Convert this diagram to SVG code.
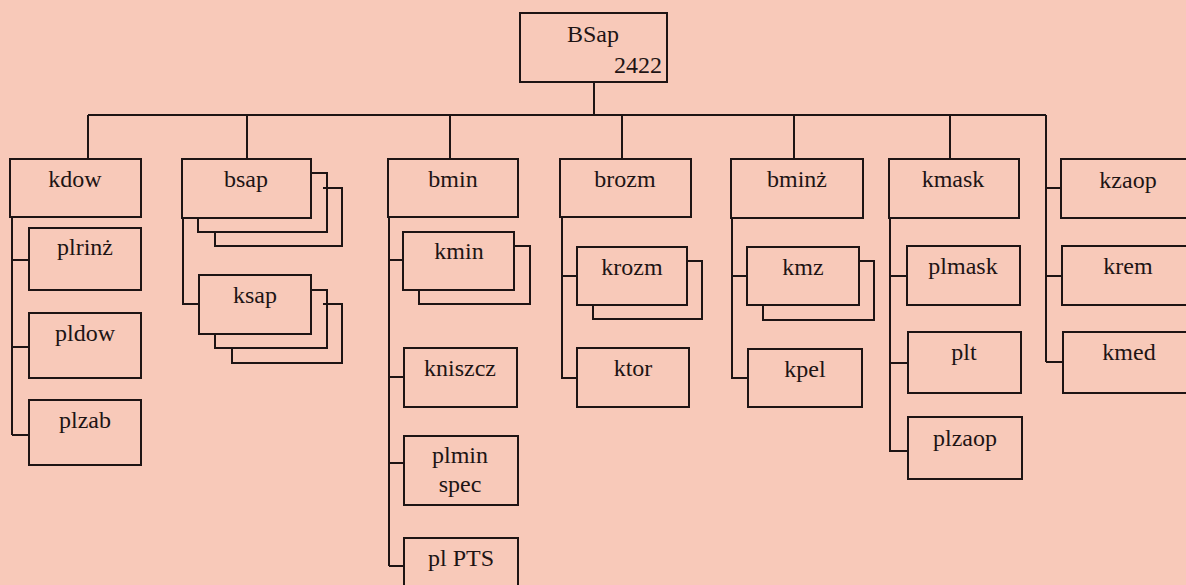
<svg xmlns="http://www.w3.org/2000/svg" width="1186" height="585" viewBox="0 0 1186 585">
<style>
.bx{fill:none;stroke:#1e1414;stroke-width:2}
.ln{fill:none;stroke:#1e1414;stroke-width:2}
text{font-family:"Liberation Serif","Times New Roman",serif;font-size:24px;fill:#1e1414;text-anchor:middle}
</style>
<rect width="1186" height="585" fill="#f8c9b9"/>
<g id="connectors" class="ln">
<path d="M594 82V115M88 115H1046M88 115V159M247 115V159M450 115V159M622 115V159M794 115V159M950 115V159M1046 115V362"/>
<path d="M12 217V435M12 260H29M12 347H29M12 435H29"/>
<path d="M183 218V304H199"/>
<path d="M389 217V566M389 260H403M389 377H404M389 463H404M389 566H404"/>
<path d="M562 217V378H577M562 276H577"/>
<path d="M732 218V378H748M732 276H747"/>
<path d="M890 218V451H908M890 276H907M890 363H908"/>
<path d="M1046 188H1061M1046 276H1062M1046 362H1063"/>
</g>
<g id="root"><rect class="bx" x="520" y="13" width="147" height="69"/><text x="593" y="42">BSap</text><text x="662" y="73" style="text-anchor:end">2422</text></g>
<g id="kdow"><rect class="bx" x="10" y="159" width="131" height="58"/><text x="75" y="187">kdow</text></g>
<g id="plrinz"><rect class="bx" x="29" y="228" width="112" height="62"/><text x="85" y="255">plrinż</text></g>
<g id="pldow"><rect class="bx" x="29" y="313" width="112" height="65"/><text x="85" y="341">pldow</text></g>
<g id="plzab"><rect class="bx" x="29" y="400" width="112" height="65"/><text x="85" y="428">plzab</text></g>
<g id="bsap"><rect class="bx" x="182" y="159" width="129" height="59"/><path class="ln" d="M311 173H327V232H198V218M323 188H342V246H215V232"/><text x="246" y="187">bsap</text></g>
<g id="ksap"><rect class="bx" x="199" y="275" width="112" height="59"/><path class="ln" d="M311 290H327V348H215V334M323 304H342V363H232V348"/><text x="255" y="303">ksap</text></g>
<g id="bmin"><rect class="bx" x="388" y="159" width="130" height="58"/><text x="453" y="187">bmin</text></g>
<g id="kmin"><rect class="bx" x="403" y="232" width="111" height="58"/><path class="ln" d="M514 246H530V304H419V290"/><text x="459" y="259">kmin</text></g>
<g id="kniszcz"><rect class="bx" x="404" y="348" width="113" height="59"/><text x="460" y="376">kniszcz</text></g>
<g id="plminspec"><rect class="bx" x="404" y="436" width="114" height="69"/><text x="460" y="463">plmin</text><text x="460" y="492">spec</text></g>
<g id="plPTS"><rect class="bx" x="404" y="538" width="114" height="60"/><text x="461" y="566">pl PTS</text></g>
<g id="brozm"><rect class="bx" x="560" y="159" width="131" height="58"/><text x="625" y="187">brozm</text></g>
<g id="krozm"><rect class="bx" x="577" y="247" width="110" height="58"/><path class="ln" d="M687 261H702V319H593V305"/><text x="632" y="275">krozm</text></g>
<g id="ktor"><rect class="bx" x="577" y="348" width="112" height="59"/><text x="633" y="376">ktor</text></g>
<g id="bminz"><rect class="bx" x="731" y="159" width="132" height="59"/><text x="797" y="187">bminż</text></g>
<g id="kmz"><rect class="bx" x="747" y="247" width="112" height="58"/><path class="ln" d="M859 261H874V320H763V305"/><text x="803" y="275">kmz</text></g>
<g id="kpel"><rect class="bx" x="748" y="349" width="114" height="58"/><text x="805" y="377">kpel</text></g>
<g id="kmask"><rect class="bx" x="889" y="159" width="130" height="59"/><text x="953" y="187">kmask</text></g>
<g id="plmask"><rect class="bx" x="907" y="246" width="113" height="59"/><text x="963" y="274">plmask</text></g>
<g id="plt"><rect class="bx" x="908" y="332" width="113" height="61"/><text x="964" y="360">plt</text></g>
<g id="plzaop"><rect class="bx" x="908" y="417" width="114" height="62"/><text x="965" y="446">plzaop</text></g>
<g id="kzaop"><rect class="bx" x="1061" y="159" width="140" height="59"/><text x="1128" y="188">kzaop</text></g>
<g id="krem"><rect class="bx" x="1062" y="246" width="140" height="59"/><text x="1128" y="274">krem</text></g>
<g id="kmed"><rect class="bx" x="1063" y="332" width="140" height="61"/><text x="1129" y="360">kmed</text></g>
</svg>
